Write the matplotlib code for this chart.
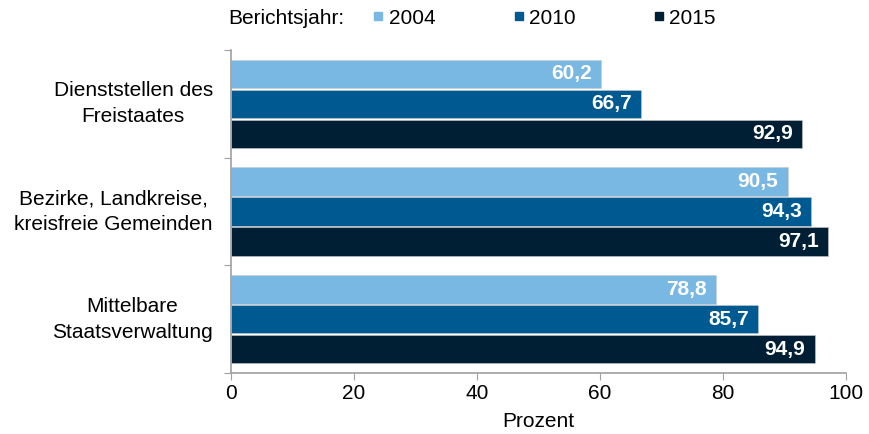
import numpy as np
import matplotlib
matplotlib.use("Agg")
from matplotlib import pyplot as plt
from matplotlib.lines import Line2D

plt.rcParams["font.family"] = ["Liberation Sans", "DejaVu Sans"]

categories = ["Dienststellen des\nFreistaates",
              "Bezirke, Landkreise,\nkreisfreie Gemeinden",
              "Mittelbare\nStaatsverwaltung"]
years = ["2004", "2010", "2015"]
values = {
    "2004": [60.2, 90.5, 78.8],
    "2010": [66.7, 94.3, 85.7],
    "2015": [92.9, 97.1, 94.9],
}
colors = {"2004": "#7ab8e4", "2010": "#005a92", "2015": "#001f35"}
fs = 15

fig = plt.figure(figsize=(8.7, 4.34), dpi=100)
ax = fig.add_axes([0.2655, 0.14, 0.707, 0.745])

y = np.arange(len(categories))
step = 0.278
height = 0.262
spine_col = "#a0a0a0"

for i, yr in enumerate(years):
    pos = y + (i - 1) * step
    bars = ax.barh(pos, values[yr], height=height, color=colors[yr],
                   edgecolor="#c8c8c8", linewidth=0.4)
    for b, v in zip(bars, values[yr]):
        ax.text(v - 1.5, b.get_y() + b.get_height() / 2,
                f"{v:.1f}".replace(".", ","), color="white",
                fontweight="bold", fontsize=fs, ha="right", va="center")

ax.set_xlim(0, 100)
ax.set_ylim(len(categories) - 0.5, -0.5)
ax.set_xticks(range(0, 101, 20))
ax.tick_params(axis="x", labelsize=fs, length=5, color=spine_col,
               direction="out", pad=3)

# category separators as ticks on the value axis
ax.set_yticks(np.arange(-0.5, len(categories) + 0.5, 1))
ax.set_yticklabels([])
ax.set_yticks(y, minor=True)
ax.set_yticklabels(categories, minor=True, fontsize=fs, va="center",
                   multialignment="center", linespacing=1.45)
ax.tick_params(axis="y", which="major", length=5, color=spine_col)
ax.tick_params(axis="y", which="minor", length=0, pad=13)

for s in ["top", "right"]:
    ax.spines[s].set_visible(False)
for s in ["left", "bottom"]:
    ax.spines[s].set_color(spine_col)
    ax.spines[s].set_linewidth(1.2)

ax.set_xlabel("Prozent", fontsize=fs, labelpad=6)

fig.text(0.262, 0.9585, "Berichtsjahr:", fontsize=fs, va="center")
handles = [Line2D([], [], marker="s", linestyle="none", markersize=6,
                  color=colors[yr]) for yr in years]
fig.legend(handles, years, ncol=3, frameon=False, fontsize=fs,
           loc="center left", bbox_to_anchor=(0.418, 0.9585),
           handletextpad=0.2, columnspacing=3.7, handlelength=0.6,
           borderaxespad=0)

fig.savefig("out.png", dpi=100)
